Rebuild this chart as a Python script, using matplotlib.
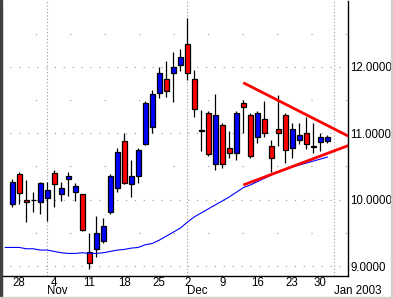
import matplotlib
matplotlib.use("Agg")
import matplotlib.pyplot as plt
import numpy as np
from matplotlib.patches import Rectangle

plt.rcParams['font.family'] = ['Liberation Sans', 'DejaVu Sans']

# daily candles, 25 Oct 2002 .. 31 Dec 2002 (trading days only)
opens = [9.93, 10.38, 10.00, 9.99, 9.96, 10.03, 10.40, 10.08, 10.31, 10.12,
         10.08, 9.21, 9.25, 9.37, 9.81, 10.17, 10.88, 10.23, 10.35, 10.83,
         11.10, 11.60, 11.81, 11.90, 12.02, 12.35, 11.81, 11.04, 11.30, 10.54,
         11.12, 10.77, 10.70, 11.46, 11.28, 10.95, 11.21, 10.80, 11.06, 11.28,
         10.77, 10.89, 11.00, 10.80, 10.86, 10.88]
highs = [10.31, 10.41, 10.30, 10.11, 10.26, 10.26, 10.45, 10.26, 10.41, 10.25,
         10.09, 9.49, 9.76, 9.73, 10.38, 10.77, 11.00, 10.59, 10.77, 11.49,
         11.65, 11.99, 12.09, 12.22, 12.26, 12.74, 11.95, 11.35, 11.33, 11.59,
         11.15, 11.03, 11.33, 11.50, 11.30, 11.34, 11.48, 10.89, 11.57, 11.31,
         11.15, 11.15, 11.24, 11.15, 11.01, 10.98]
lows = [9.89, 9.94, 9.67, 9.82, 9.78, 9.68, 9.89, 9.98, 10.06, 9.98,
        9.53, 8.96, 9.13, 9.34, 9.79, 10.11, 10.24, 10.04, 10.25, 10.82,
        11.00, 11.53, 11.55, 11.47, 11.94, 11.80, 11.25, 10.73, 10.65, 10.44,
        10.48, 10.62, 10.60, 11.00, 10.62, 10.85, 10.94, 10.41, 10.80, 10.55,
        10.62, 10.83, 10.76, 10.70, 10.73, 10.85]
closes = [10.26, 10.10, 9.96, 9.99, 10.25, 10.14, 10.23, 10.17, 10.35, 10.20,
          9.54, 9.04, 9.49, 9.61, 10.35, 10.71, 10.25, 10.35, 10.74, 11.46,
          11.59, 11.90, 11.63, 11.99, 12.14, 11.90, 11.37, 11.04, 10.68, 11.28,
          10.54, 10.70, 11.30, 11.39, 10.65, 11.30, 11.01, 10.62, 11.00, 10.74,
          11.06, 10.98, 10.83, 10.79, 10.94, 10.95]

# moving average, starts one day before the first candle
ma = [9.28, 9.28, 9.28, 9.26, 9.26, 9.24, 9.24, 9.22, 9.20, 9.19, 9.19,
      9.20, 9.19, 9.19, 9.20, 9.22, 9.24, 9.25, 9.27, 9.28, 9.32, 9.34,
      9.39, 9.45, 9.51, 9.57, 9.66, 9.74, 9.80, 9.86, 9.92, 9.98, 10.04,
      10.11, 10.18, 10.22, 10.27, 10.32, 10.37, 10.42, 10.45, 10.49, 10.52,
      10.55, 10.58, 10.61, 10.64]

# triangle lines (day index, price)
upper_line = ([33, 48], [11.76, 10.956])
lower_line = ([33, 48], [10.22, 10.814])

day_idx = [1, 6, 11, 16, 21, 25, 30, 35, 40, 44]
day_lab = ['28', '4', '11', '18', '25', '2', '9', '16', '23', '30']
month_idx = [5, 25, 46]
month_lab = ['Nov', 'Dec', 'Jan 2003']

W, H = 393, 299
fig = plt.figure(figsize=(W / 100, H / 100), dpi=100, facecolor='white')
ax = fig.add_axes([1 / W, (H - 276) / H, 347 / W, 275 / H])
ax.set_facecolor('white')

x = np.arange(len(opens))
o = np.array(opens)
c = np.array(closes)
cols = np.where(c >= o, '#0000FF', '#FF0000')

ax.vlines(x, lows, highs, color='black', lw=0.9, zorder=3)
ax.bar(x, np.maximum(np.abs(c - o), 0.004), bottom=np.minimum(o, c), width=0.72,
       color=cols, edgecolor='black', linewidth=0.9, zorder=4)

ax.plot(np.arange(len(ma)) - 1, ma, color='#0000FF', lw=0.8, zorder=5)
ax.plot(*upper_line, color='#FF0000', lw=2.0, zorder=6, solid_capstyle='butt')
ax.plot(*lower_line, color='#FF0000', lw=2.0, zorder=6, solid_capstyle='butt')

ax.set_xlim(-1.61, 47.96)
ax.set_ylim(8.85, 12.99)

# grid
for lv in [9.0, 10.0, 11.0, 12.0]:
    ax.axhline(lv, color='#999999', lw=0.8, ls=(0, (1, 7)), zorder=1)
for lv in [9.5, 10.5, 11.5, 12.5]:
    ax.axhline(lv, color='#999999', lw=0.8, ls=(0, (1, 30)), zorder=1)
for m in month_idx:
    ax.axvline(m, color='#999999', lw=0.8, ls=(0, (1, 2)), zorder=1)

ax.yaxis.tick_right()
ax.set_yticks([9, 10, 11, 12])
ax.set_yticklabels(['9.0000', '10.0000', '11.0000', '12.0000'])
ax.tick_params(axis='y', length=0, pad=1.5, labelsize=8.3, colors='black')
ax.set_xticks(day_idx)
ax.set_xticklabels(day_lab)
ax.tick_params(axis='x', length=0, pad=1.0, labelsize=8.3, colors='black')

for m, lab in zip(month_idx, month_lab):
    ax.text(m - 0.05, -0.0764, lab, transform=ax.get_xaxis_transform(),
            ha='left', va='bottom', fontsize=8.3, zorder=12)

for s in ['top', 'left']:
    ax.spines[s].set_visible(False)
ax.spines['right'].set_linewidth(1.0)
ax.spines['bottom'].set_linewidth(1.0)

# window frame
fig.patches.append(Rectangle((0, 0), 1.5 / W, 1, transform=fig.transFigure,
                             color='#404040', zorder=10))
fig.patches.append(Rectangle((0, 0), 1, 2 / H, transform=fig.transFigure,
                             color='#D4D0C8', zorder=10))
fig.patches.append(Rectangle((1 - 2 / W, 0), 2 / W, 1, transform=fig.transFigure,
                             color='#D4D0C8', zorder=10))

fig.savefig('out.png', dpi=100, facecolor='white')
